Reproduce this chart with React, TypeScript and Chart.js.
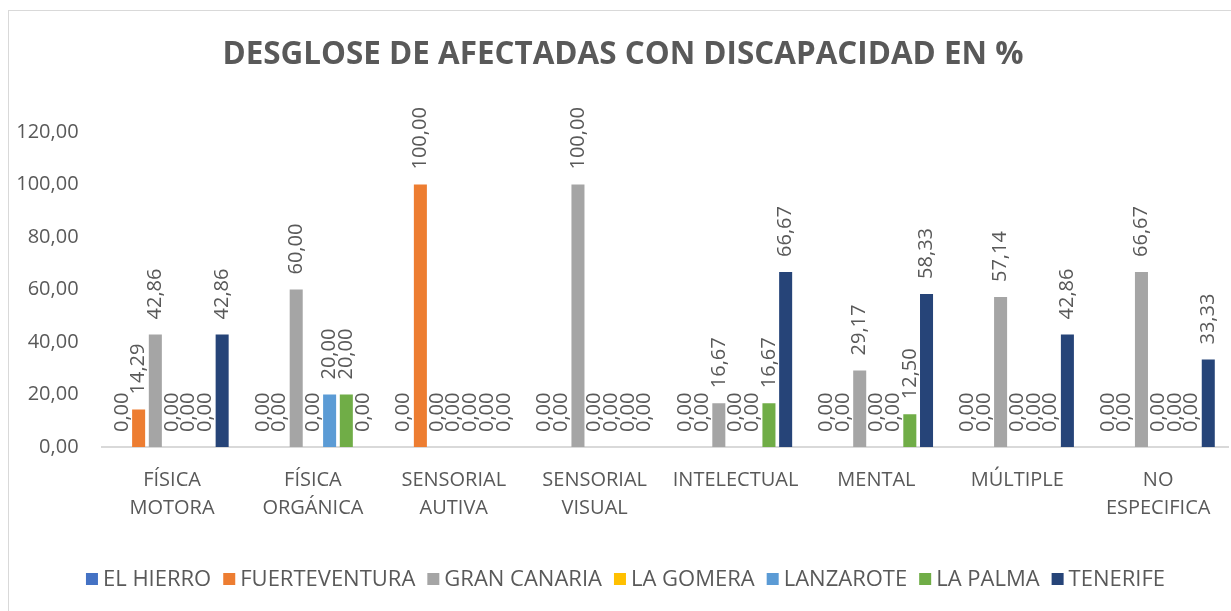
import React, { useEffect, useRef } from "react";
import { Chart, registerables } from "chart.js";

Chart.register(...registerables);

const categories: string[][] = [
  ["FÍSICA", "MOTORA"],
  ["FÍSICA", "ORGÁNICA"],
  ["SENSORIAL", "AUTIVA"],
  ["SENSORIAL", "VISUAL"],
  ["INTELECTUAL"],
  ["MENTAL"],
  ["MÚLTIPLE"],
  ["NO", "ESPECIFICA"],
];

const seriesNames = ["EL HIERRO", "FUERTEVENTURA", "GRAN CANARIA", "LA GOMERA", "LANZAROTE", "LA PALMA", "TENERIFE"];
const seriesColors = ["#4472C4", "#ED7D31", "#A5A5A5", "#FFC000", "#5B9BD5", "#70AD47", "#264478"];

const elHierro = [0, 0, 0, 0, 0, 0, 0, 0];
const fuerteventura = [14.29, 0, 100, 0, 0, 0, 0, 0];
const granCanaria = [42.86, 60, 0, 100, 16.67, 29.17, 57.14, 66.67];
const laGomera = [0, 0, 0, 0, 0, 0, 0, 0];
const lanzarote = [0, 20, 0, 0, 0, 0, 0, 0];
const laPalma = [0, 20, 0, 0, 16.67, 12.5, 0, 0];
const tenerife = [42.86, 0, 0, 0, 66.67, 58.33, 42.86, 33.33];

const seriesValues = [elHierro, fuerteventura, granCanaria, laGomera, lanzarote, laPalma, tenerife];

const yMin = 0;
const yMax = 120;
const yStep = 20;

const titleText = "DESGLOSE DE AFECTADAS CON DISCAPACIDAD EN %";

const fmt = (v: number) => v.toFixed(2).replace(".", ",");

const FONT = "'Open Sans', 'DejaVu Sans', sans-serif";
const TEXT = "#595959";

const W = 1251;
const H = 611;

export default function App() {
  const ref = useRef<HTMLCanvasElement | null>(null);

  useEffect(() => {
    if (!ref.current) return;

    const decor = {
      id: "decor",
      beforeDraw(chart: any) {
        const ctx = chart.ctx;
        ctx.save();
        ctx.fillStyle = "#ffffff";
        ctx.fillRect(0, 0, chart.width, chart.height);
        ctx.strokeStyle = "#d9d9d9";
        ctx.lineWidth = 1;
        ctx.strokeRect(8.5, 10.5, 1235, 700);
        ctx.restore();
      },
      afterDraw(chart: any) {
        const ctx = chart.ctx;
        ctx.save();
        // title
        ctx.fillStyle = TEXT;
        ctx.font = `bold 31.4px ${FONT}`;
        ctx.textAlign = "center";
        ctx.textBaseline = "middle";
        ctx.fillText(titleText, 623, 55);
        // legend
        ctx.font = `22px ${FONT}`;
        const box = 12;
        const gapBox = 5;
        const gapItem = 12;
        const widths = chart.data.datasets.map((ds: any) => ctx.measureText(ds.label).width);
        let total = 0;
        widths.forEach((w: number, i: number) => {
          total += box + gapBox + w + (i < widths.length - 1 ? gapItem : 0);
        });
        let x = 625.5 - total / 2;
        const y = 579;
        ctx.textAlign = "left";
        chart.data.datasets.forEach((ds: any, i: number) => {
          ctx.fillStyle = ds.backgroundColor;
          ctx.fillRect(x, y - 6, box, box);
          x += box + gapBox;
          ctx.fillStyle = TEXT;
          ctx.fillText(ds.label, x, y + 1);
          x += widths[i] + gapItem;
        });
        ctx.restore();
      },
      afterDatasetsDraw(chart: any) {
        const ctx = chart.ctx;
        ctx.save();
        ctx.fillStyle = TEXT;
        ctx.font = `20px ${FONT}`;
        ctx.textAlign = "left";
        ctx.textBaseline = "middle";
        chart.data.datasets.forEach((ds: any, di: number) => {
          const meta = chart.getDatasetMeta(di);
          meta.data.forEach((bar: any, i: number) => {
            const v = ds.data[i] as number;
            ctx.save();
            ctx.translate(bar.x, bar.y - 15);
            ctx.rotate(-Math.PI / 2);
            ctx.fillText(fmt(v), 0, 0);
            ctx.restore();
          });
        });
        ctx.restore();
      },
    };

    const chart = new Chart(ref.current, {
      type: "bar",
      data: {
        labels: categories,
        datasets: seriesNames.map((name, i) => ({
          label: name,
          data: seriesValues[i],
          backgroundColor: seriesColors[i],
          borderWidth: 0,
          categoryPercentage: 0.83,
          barPercentage: 0.78,
        })),
      },
      options: {
        responsive: false,
        animation: false,
        devicePixelRatio: 1,
        layout: { padding: { top: 132, left: 0, right: 22.4, bottom: 0 } },
        plugins: {
          legend: { display: false },
          title: { display: false },
          tooltip: { enabled: false },
        },
        scales: {
          x: {
            grid: { display: false, drawTicks: false },
            border: { display: true, color: "#d9d9d9", width: 2 },
            ticks: {
              color: TEXT,
              font: { family: FONT, size: 20, lineHeight: 1.4 },
              padding: 19,
              maxRotation: 0,
              autoSkip: false,
            },
            afterFit(scale: any) {
              scale.height = 164;
            },
          },
          y: {
            min: yMin,
            max: yMax,
            grid: { display: false, drawTicks: false },
            border: { display: false },
            ticks: {
              stepSize: yStep,
              color: TEXT,
              font: { family: FONT, size: 20 },
              padding: 23,
              callback: (v: any) => fmt(Number(v)),
            },
            afterFit(scale: any) {
              scale.width = 101.6;
            },
          },
        },
      },
      plugins: [decor],
    });

    return () => chart.destroy();
  }, []);

  return (
    <div style={{ position: "fixed", left: 0, top: 0, width: 1231, height: 611, overflow: "hidden", background: "#fff" }}>
      <canvas ref={ref} width={W} height={H} style={{ display: "block", width: W, height: H }} />
    </div>
  );
}
